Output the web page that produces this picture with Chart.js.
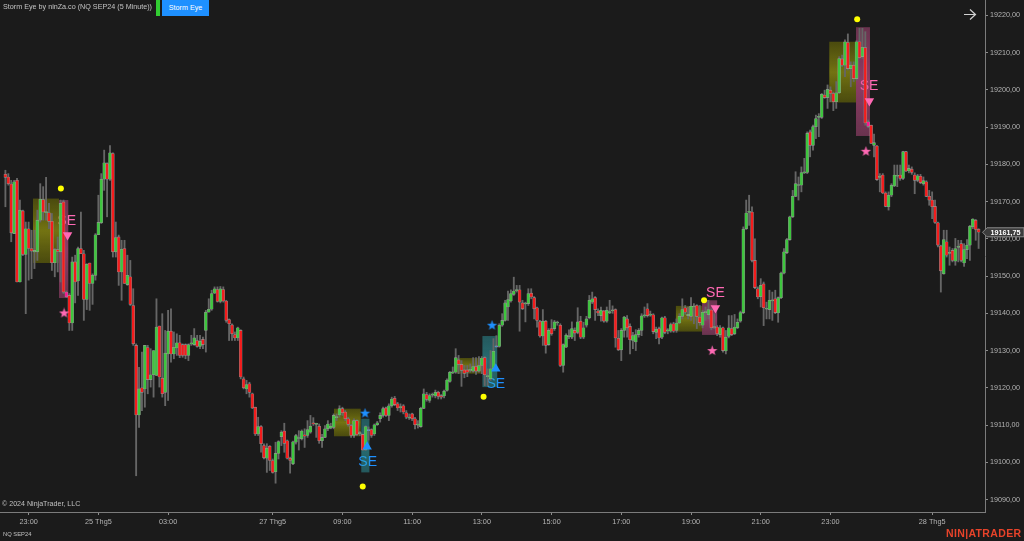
<!DOCTYPE html>
<html>
<head>
<meta charset="utf-8">
<script src="https://cdn.jsdelivr.net/npm/chart.js@4/dist/chart.umd.min.js"></script>
<style>
  html, body { margin: 0; background: #1b1b1b; overflow: hidden; }
  #wrap { position: relative; width: 1024px; height: 541px; font-family: "Liberation Sans", Arial, sans-serif; }
  canvas { position: absolute; left: 0; top: 0; }
  .lbl { position: absolute; white-space: nowrap; color: #b4b4b4; }
  #title { left: 3px; top: 2px; font-size: 7.2px; line-height: 10px; color: #c4c4c4; }
  #stripe { position: absolute; left: 156px; top: 0; width: 4px; height: 16px; background: #32cd32; }
  #button { left: 162px; top: 0; width: 47px; height: 16px; background: #1e90ff; color: #fff; font-size: 7.2px; line-height: 16px; text-align: center; }
  #copy { left: 2px; top: 499px; font-size: 7.1px; line-height: 10px; color: #c0c0c0; }
  #inst { left: 3px; top: 530px; font-size: 5.8px; line-height: 8px; color: #c0c0c0; }
  #brand { left: 946px; top: 527px; font-size: 10.5px; line-height: 13px; font-weight: bold; letter-spacing: 0.35px; color: #e8432a; }
</style>
</head>
<body>
<div id="wrap">
  <canvas id="chart" width="1024" height="541"></canvas>
  <div class="lbl" id="title">Storm Eye by ninZa.co (NQ SEP24 (5 Minute))</div>
  <div id="stripe"></div>
  <div class="lbl" id="button">Storm Eye</div>
  <div class="lbl" id="copy">© 2024 NinjaTrader, LLC</div>
  <div class="lbl" id="inst">NQ SEP24</div>
  <div class="lbl" id="brand">NIN|ATRADER</div>
</div>
<script>
// 5 minute bars (12 bars a row)
const opens = [
  19177.3,19176.6,19174.7,19161.4,19175.7,19148.4,19167.5,19155.8,19162.7,19157.4,19156.5,19156.5,
  19165,19170.5,19167,19167,19164.7,19153.6,19157.1,19156.5,19169.9,19145.7,19144.8,19137.4,
  19153.8,19148.7,19157.4,19156,19143.7,19153.5,19148,19150.2,19161.1,19164.3,19176,19180.2,
  19176,19182.9,19156.5,19160.5,19151.1,19157.4,19147.7,19149.8,19142.1,19131.4,19112.7,19120,
  19119.7,19130.8,19122.2,19123.5,19123.3,19136.6,19122.6,19118.8,19129.1,19135.2,19129.1,19130.7,
  19132.1,19131.6,19131.6,19128.7,19131.8,19131.6,19132.7,19131.1,19133,19135.4,19140.3,19141.1,
  19145.4,19146.4,19143.2,19146.4,19143.3,19138.3,19136.9,19134.3,19133.4,19135.4,19122.4,19119.7,
  19121.1,19118.4,19114.8,19107.6,19109.6,19104.5,19101.1,19104.3,19100.5,19097.5,19102.4,19106.9,
  19108.4,19105.8,19101.1,19099.6,19105.4,19106.4,19106.3,19107.4,19107.2,19108.1,19110.6,19110.2,
  19109.7,19105.8,19106.7,19109,19109.2,19109.4,19112,19112.7,19114.4,19113.5,19111.7,19109.9,
  19107.2,19111.2,19107.7,19107.5,19103.3,19108.5,19108.8,19107.6,19110.1,19111.7,19112.6,19114.6,
  19112.6,19115.2,19117.2,19115.7,19114.7,19115.2,19113.3,19111.9,19113,19111.7,19110,19109.6,
  19114.5,19118.2,19116.6,19118,19117.8,19118.8,19117.9,19117.8,19119.3,19121.7,19124,19124.2,
  19127.5,19126.3,19124.8,19124.8,19124.7,19124.5,19125.7,19124.5,19126,19128.1,19123,19122.4,
  19125.1,19131,19131.1,19136.8,19138.1,19141.7,19143.3,19145.1,19146.1,19146.3,19142.8,19142.5,
  19142.6,19145.4,19144.2,19141.5,19137.8,19133.9,19137.9,19131.6,19135.9,19135.9,19137.4,19136.8,
  19126,19130.9,19133.7,19133.6,19135.4,19134.9,19137.9,19133.6,19136.8,19138.8,19143,19144.2,
  19140.6,19139.4,19140.6,19137.9,19140.2,19140.7,19141,19133.3,19130.2,19135.4,19138.5,19136.5,
  19132.7,19132.3,19134.3,19135.4,19139.3,19141.2,19139.5,19139.6,19134.9,19135.9,19133.6,19138.8,
  19135.3,19135.2,19137.2,19135.4,19137.4,19139.2,19141.5,19139.4,19139.2,19141.7,19142.1,19139,
  19136.8,19140.2,19139.6,19140.9,19136.2,19136.3,19134.3,19136.1,19129.9,19133.8,19135.9,19134.5,
  19136.1,19137.9,19140.2,19162.7,19167.1,19167.2,19154.2,19146.6,19144.5,19147.9,19141.1,19141,
  19143.3,19143.9,19140.1,19144.2,19150.8,19156.3,19159.8,19165.9,19171.4,19174.3,19174.4,19177.7,
  19177.8,19188.7,19185.1,19190.1,19192.6,19192.6,19198.6,19197.9,19199.9,19199,19196.8,19199.2,
  19208.3,19206.6,19212.7,19205.7,19206.6,19203,19212.9,19208.9,19211.3,19191.4,19190.5,19185.1,
  19184.9,19176.5,19177.1,19172.3,19168.6,19171.7,19174.2,19176.8,19177.1,19176.2,19183.4,19178.2,
  19178.7,19177.1,19175.7,19176.8,19174.8,19175.3,19171.4,19170.4,19168.7,19164.3,19158.1,19150.6,
  19159.2,19156.1,19156.9,19154,19157.7,19158.7,19153.5,19157.1,19158.3,19163.2,19165,19162.6
];
const highs = [
  19178.4,19177.5,19175.7,19175.7,19176.2,19170.4,19167.7,19164.5,19164.5,19162.3,19162.3,19167.7,
  19174.8,19174,19176.5,19169.5,19166.8,19157.4,19160.5,19170.4,19170.4,19146,19145.3,19155.1,
  19155.6,19157.8,19167.2,19156.9,19153.3,19153.5,19150.6,19161.4,19171.7,19177.5,19183.8,19180.4,
  19185,19183.1,19164.5,19161,19159.6,19159.6,19155.6,19154.2,19146.6,19131.8,19125.5,19129.6,
  19131.4,19131.4,19130.5,19130,19143.9,19136.6,19139.9,19135.4,19140.8,19141.2,19135,19134.5,
  19134.1,19131.8,19131.8,19131.8,19134.1,19135.9,19134.1,19134.1,19133.6,19140.8,19143.9,19146.2,
  19147.1,19147.1,19147.2,19147.1,19143.5,19138.5,19137.2,19135,19136.3,19135.6,19122.9,19122,
  19121.5,19118.6,19114.8,19112.1,19109.9,19105,19105,19104.5,19100.9,19105.4,19105.8,19108.5,
  19110.5,19106,19101.4,19105.7,19107.5,19108.5,19108.7,19109,19111.2,19112.6,19112,19110.5,
  19110.3,19107.5,19109.9,19111.2,19110.5,19113,19113,19115.2,19114.8,19113.9,19112.1,19110.2,
  19111.7,19111.4,19108.3,19107.6,19109.8,19109.5,19109,19110.3,19111,19113.3,19114.8,19114.8,
  19115.7,19117.5,19117.7,19116.1,19115.7,19115.5,19113.9,19113,19113.2,19112.1,19111.2,19114.8,
  19119.7,19118.8,19118.4,19118.6,19119.4,19119.1,19118.2,19119.4,19122.4,19124.4,19125.6,19130.5,
  19128.7,19127.3,19126,19126,19126.4,19128.1,19128.1,19128.4,19128.4,19128.4,19125.1,19130,
  19133.2,19134,19137.2,19139.9,19143.5,19146,19146.3,19149.7,19147.5,19147.5,19143.5,19143,
  19146.6,19146.6,19144.5,19141.7,19138.1,19141,19138.1,19135.9,19138.3,19138.1,19137.9,19137.2,
  19131.8,19134.5,19135.6,19137.7,19136.1,19141.5,19139.2,19137.6,19139.2,19144.8,19145.7,19144.5,
  19141.2,19141.7,19140.8,19141.7,19143.5,19142,19141.2,19135.4,19135.9,19139.2,19139.4,19137.2,
  19134.9,19135.6,19135.9,19139.9,19141.7,19142.6,19140.6,19139.9,19136.3,19136.3,19139,19139.2,
  19135.9,19137.4,19137.6,19138.5,19139.9,19143.9,19142.1,19141.7,19144.2,19142.6,19142.3,19142.1,
  19140.8,19141.7,19143.5,19141.2,19139.9,19136.7,19136.7,19136.3,19135.4,19139.4,19139.4,19139.7,
  19138.5,19140.6,19163.2,19170.4,19171.7,19168.6,19160,19147.1,19149.3,19148.4,19143,19146.2,
  19145.7,19146.2,19144.4,19151.1,19157.4,19160.1,19166.1,19173,19178,19176.6,19179.3,19181.6,
  19188.7,19189.2,19190.5,19193.2,19193.6,19199,19199.9,19201.3,19200.8,19199.4,19202.2,19208.9,
  19209.3,19213.4,19215,19207.5,19207.5,19213.2,19216.5,19216.5,19215.6,19191.9,19190.5,19188.1,
  19185.1,19177.5,19177.5,19172.6,19172.6,19174.8,19179.8,19179.8,19179.8,19183.5,19183.5,19179.8,
  19179.3,19177.7,19177.3,19177.3,19176.6,19175.6,19173,19172.6,19170.4,19164.5,19158.3,19162.3,
  19162.3,19157.8,19157.4,19160.1,19159.6,19159.6,19158.7,19159.8,19163.6,19165.4,19165.2,19162.7
];
const lows = [
  19168.6,19174.4,19159.2,19161.4,19148.4,19148.4,19155.5,19139.9,19148.9,19149.3,19152,19154.2,
  19164.5,19165,19165,19162.7,19151.5,19149.8,19151.1,19148.4,19145.3,19144.2,19135.4,19135.4,
  19142.8,19144.8,19156,19138.1,19141,19140.8,19142.4,19148.9,19161.1,19164.1,19173,19165.9,
  19175.7,19155.1,19155.1,19147.5,19143.5,19148,19147.5,19142.1,19131.4,19096.4,19109.4,19113.9,
  19114.8,19118.4,19120.2,19117.5,19123.3,19120.2,19117.5,19115.2,19116.6,19126.9,19127.8,19128.7,
  19128.1,19128.2,19127.8,19127.3,19131.4,19131.4,19130.9,19130.5,19130.5,19129.6,19140.3,19140.8,
  19145.3,19143,19142.8,19143,19137.6,19132.7,19132.7,19132.7,19132.7,19122.4,19119.7,19118.4,
  19117.5,19114.4,19107.2,19107.2,19102.7,19100.9,19097.3,19097.8,19097.1,19094.4,19100.9,19104.5,
  19102.7,19100.9,19097.1,19099.4,19104.9,19103.3,19106,19104,19106.7,19107.8,19109.9,19106.7,
  19105.1,19104,19106.6,19108.5,19109,19109,19111.2,19112.1,19112.6,19111.2,19109.7,19106.7,
  19106.7,19107.2,19107.2,19103.2,19103.2,19106,19106.7,19107.2,19109.9,19110.8,19112.1,19112.3,
  19111.2,19114.8,19115.2,19113.9,19113.5,19113,19111.7,19111.5,19111.2,19109,19109.2,19109.4,
  19114.4,19116.4,19116.1,19117.5,19117.3,19117,19117,19117.3,19119.1,19121.5,19123.8,19123.9,
  19123.8,19120.4,19122.7,19123,19124.2,19124.2,19123.6,19124.2,19123.8,19120.6,19120.6,19122,
  19124.8,19130.8,19130.9,19136.5,19137.9,19138.1,19143,19144.8,19145.7,19135.2,19141,19137.7,
  19142.1,19143.9,19138.5,19136.3,19133.6,19131.4,19129.3,19131.4,19134.1,19135.4,19136.8,19125.7,
  19124.2,19130.8,19133.2,19133.2,19132.7,19134.5,19133.2,19133.2,19136.3,19138.5,19142.6,19138.1,
  19139.4,19137.9,19137.6,19137.6,19139.9,19140,19130.9,19130,19127.3,19133.6,19133.6,19129.1,
  19130.5,19130,19133.6,19134,19138.9,19139,19139.2,19134.5,19133.2,19131.8,19133.2,19134.5,
  19134.5,19134.9,19134.9,19134.9,19137.2,19138.5,19139.7,19138.5,19138.1,19137.2,19135.9,19136.8,
  19136.1,19138.1,19138.5,19135.6,19135.9,19134,19133.6,19129.6,19129.1,19133.4,19134,19134.3,
  19135.9,19137.6,19139.9,19162.5,19163.6,19153.8,19146.6,19143.9,19141.7,19136.7,19138.5,19138.5,
  19138.1,19139.9,19137.6,19143.9,19150.6,19156,19159.6,19165.7,19171.3,19170.4,19172.6,19177.5,
  19177.5,19182,19183.8,19186.9,19187.4,19192.3,19197.7,19195,19196.8,19194.4,19195,19199,
  19206.2,19203.5,19205.3,19200.8,19202.2,19202.6,19208.4,19208.4,19190.5,19189.8,19185.6,19182,
  19175.7,19172.6,19172.1,19168.6,19167.7,19171.3,19174,19174,19175.7,19175.9,19178,19177.7,
  19177.3,19172.1,19175.3,19174.8,19174.4,19171.3,19169,19165.4,19164.1,19157.8,19145.7,19150.5,
  19155.1,19152.9,19153.8,19152.9,19153.8,19153.8,19152.6,19154.7,19154.2,19162.7,19159.6,19157.4
];
const closes = [
  19176.5,19174.8,19161.6,19175.3,19148.4,19167.7,19155.8,19162.7,19157.4,19156.7,19156.9,19165,
  19170.6,19167.2,19167.3,19164.7,19153.6,19157.1,19156.6,19169.5,19145.7,19144.4,19137.4,19153.8,
  19148.4,19157.4,19156,19143.7,19153.2,19148,19150.2,19161.1,19164.4,19176,19180.4,19176,
  19183.1,19156.5,19160.3,19151.1,19157.2,19148,19150.2,19142.4,19131.8,19112.7,19119.7,19118.8,
  19131.4,19122.2,19123.5,19130,19136.3,19122.9,19118.4,19129.3,19135.2,19129.1,19130.9,19132.1,
  19128.7,19128.7,19128.7,19131.6,19131.9,19133.4,19131.1,19132.5,19131.6,19140.3,19141.1,19145.3,
  19146.6,19143.2,19146.6,19143.3,19138.1,19137.2,19134.5,19133.4,19136.1,19122.9,19120,19120.9,
  19118.8,19114.6,19107.6,19109.6,19105,19101.2,19103.8,19100.5,19097.3,19102.4,19105.6,19108.1,
  19105.1,19101.1,19100.5,19105.5,19107.2,19106.5,19108.4,19107,19108.8,19109.7,19110.3,19110.4,
  19105.8,19106.7,19109,19110.3,19109.7,19112.6,19112.2,19114.4,19113.3,19111.7,19110.2,19107.2,
  19111.2,19107.5,19107.9,19103.3,19109.6,19108.7,19107.2,19110.1,19110.6,19112.6,19114.4,19112.6,
  19115.2,19117,19115.5,19114.6,19114.9,19113.5,19112.1,19112,19111.7,19110.1,19110.1,19114.5,
  19118.4,19116.9,19117.9,19118.2,19118.8,19117.7,19117.5,19119.1,19122.1,19124.2,19124.2,19128.1,
  19126.3,19124.7,19123.9,19124.2,19124.9,19125.7,19124.5,19126,19128,19123.5,19123.1,19125.1,
  19129.8,19131.3,19136.8,19138.1,19142.8,19143.7,19145.3,19146,19146.3,19143,19141.2,19142.7,
  19145.3,19144.4,19141.2,19138.1,19133.9,19137.9,19131.4,19135.4,19134.5,19137.7,19137.6,19126,
  19131.6,19134.1,19133.9,19135.9,19134.7,19137.7,19133.6,19136.1,19138.5,19143.5,19143.9,19141,
  19140.1,19140.8,19137.9,19140.8,19140.4,19140.9,19133.4,19130.2,19135.4,19139,19136.1,19132.9,
  19134,19134.3,19135.4,19139.3,19139.5,19139.4,19139.7,19135.1,19135.7,19133.4,19138.8,19134.9,
  19135.5,19137,19135.2,19137.4,19139.2,19141,19140.3,19139.7,19141.9,19141.9,19139.2,19137.5,
  19140.3,19140.4,19141,19136.1,19136.4,19134.5,19136.1,19130,19133.6,19136.1,19134.3,19136.3,
  19137.6,19140.2,19162.6,19166.9,19167.3,19154.2,19146.9,19144.4,19147.5,19141.5,19141.3,19143.5,
  19143.6,19140.2,19144.2,19150.8,19156.5,19159.8,19165.9,19171.4,19174.8,19174.5,19177.8,19177.9,
  19188.3,19185.1,19190.1,19192.3,19192.8,19198.8,19197.9,19200.1,19199,19196.8,19199.2,19208.4,
  19206.6,19212.9,19205.7,19206.6,19203,19212.9,19208.6,19211.4,19191.1,19190.2,19185.6,19185.8,
  19175.9,19176.7,19172.3,19168.7,19171.7,19174.4,19177.1,19177,19176.2,19183.4,19178.2,19178.9,
  19177.8,19175.7,19176.9,19175.1,19175.6,19171.4,19170.4,19168.6,19164.4,19158.3,19151.4,19159.8,
  19155.6,19156.3,19154.2,19157.4,19157.9,19154.2,19157.1,19158.3,19163.4,19165.3,19162.5,19161.75
];

// bars where the signal paints the candle itself
const pinkBars = [21, 297];
const blueBars = [125, 169];

const tickBars = [8, 32, 56, 92, 116, 140, 164, 188, 212, 236, 260, 284, 319];
const tickLabels = ['23:00', '25 Thg5', '03:00', '27 Thg5', '09:00', '11:00', '13:00', '15:00', '17:00', '19:00', '21:00', '23:00', '28 Thg5'];
const priceTicks = [19090, 19100, 19110, 19120, 19130, 19140, 19150, 19160, 19170, 19180, 19190, 19200, 19210, 19220];

// storm boxes, bar numbers and prices
const stormStart = [9.5, 113.1, 155.4, 230.8, 283.6];
const stormEnd = [18.45, 122.3, 164.3, 239.8, 292.8];
const stormTop = [19170.8, 19114.4, 19128, 19142, 19212.9];
const stormBottom = [19153.5, 19107, 19123.8, 19135.1, 19196.6];

const pinkStart = [18.45, 239.8, 292.8];
const pinkEnd = [21.65, 245, 297.6];
const pinkTop = [19170.4, 19143.5, 19216.8];
const pinkBottom = [19144.1, 19134.2, 19187.6];

const tealStart = [122.5, 164.2];
const tealEnd = [125.3, 169.3];
const tealTop = [19111.7, 19133.9];
const tealBottom = [19097.3, 19120.2];

const dotBars = [19.1, 123, 164.6, 240.5, 293.2];
const dotPrices = [19173.5, 19093.5, 19117.6, 19143.5, 19218.9];
const pinkStarBars = [20.2, 243.3, 296.2];
const pinkStarPrices = [19140.1, 19130, 19183.5];
const blueStarBars = [123.8, 167.5];
const blueStarPrices = [19113.2, 19136.8];
const downBars = [21.4, 244.4, 297.4];
const downPrices = [19161, 19141.4, 19197];
const upBars = [124.5, 168.8];
const upPrices = [19104.2, 19125.1];
const seBars = [21.1, 124.7, 168.8, 244.4, 297.3];
const sePrices = [19164.8, 19100, 19121, 19145.4, 19201.1];
const seIsLong = [false, true, true, false, false];

const PINK = '#ff69b4';
const BLUE = '#1e90ff';
const UP = '#3ec63e';
const DOWN = '#f41c1c';

function points(xs, ys) {
  return xs.map((x, i) => ({ x, y: ys[i] }));
}

function bodyColor(i) {
  if (pinkBars.includes(i)) return '#ff1493';
  if (blueBars.includes(i)) return BLUE;
  return closes[i] >= opens[i] ? UP : DOWN;
}

function starImage(color) {
  const c = document.createElement('canvas');
  c.width = 11;
  c.height = 11;
  const g = c.getContext('2d');
  g.fillStyle = color;
  g.beginPath();
  for (let k = 0; k < 10; k++) {
    const r = k % 2 ? 2.2 : 5.4;
    const a = -Math.PI / 2 + k * Math.PI / 5;
    g.lineTo(5.5 + r * Math.cos(a), 5.7 + r * Math.sin(a));
  }
  g.closePath();
  g.fill();
  return c;
}

function fillBoxes(chart, starts, ends, tops, bottoms, edge, mid) {
  const { ctx, scales } = chart;
  starts.forEach((s, i) => {
    const x0 = scales.x.getPixelForValue(s);
    const x1 = scales.x.getPixelForValue(ends[i]);
    const y0 = scales.y.getPixelForValue(tops[i]);
    const y1 = scales.y.getPixelForValue(bottoms[i]);
    const grad = ctx.createLinearGradient(0, y0, 0, y1);
    grad.addColorStop(0, edge);
    grad.addColorStop(0.5, mid);
    grad.addColorStop(1, edge);
    ctx.fillStyle = grad;
    ctx.fillRect(x0, y0, x1 - x0, y1 - y0);
  });
}

const overlays = {
  id: 'overlays',
  beforeDatasetsDraw(chart) {
    const { ctx, scales } = chart;
    ctx.save();
    ctx.font = '14px "Liberation Sans", Arial, sans-serif';
    ctx.textAlign = 'center';
    ctx.textBaseline = 'middle';
    seBars.forEach((b, i) => {
      ctx.fillStyle = seIsLong[i] ? BLUE : PINK;
      ctx.fillText('SE', scales.x.getPixelForValue(b), scales.y.getPixelForValue(sePrices[i]));
    });
    fillBoxes(chart, stormStart, stormEnd, stormTop, stormBottom, 'rgba(115,115,5,0.55)', 'rgba(150,150,15,0.72)');
    fillBoxes(chart, pinkStart, pinkEnd, pinkTop, pinkBottom, 'rgba(215,85,150,0.42)', 'rgba(225,85,155,0.58)');
    fillBoxes(chart, tealStart, tealEnd, tealTop, tealBottom, 'rgba(50,175,185,0.42)', 'rgba(50,175,185,0.55)');
    ctx.restore();
  },
  afterDraw(chart) {
    const { ctx, scales } = chart;
    const last = closes[closes.length - 1];
    const y = scales.y.getPixelForValue(last);
    ctx.save();
    // last price tag
    ctx.beginPath();
    ctx.moveTo(982.5, y);
    ctx.lineTo(987, y - 4.5);
    ctx.lineTo(1024, y - 4.5);
    ctx.lineTo(1024, y + 4.5);
    ctx.lineTo(987, y + 4.5);
    ctx.closePath();
    ctx.fillStyle = '#3c3c3c';
    ctx.strokeStyle = '#8a8a8a';
    ctx.lineWidth = 1;
    ctx.fill();
    ctx.stroke();
    ctx.fillStyle = '#ffffff';
    ctx.font = 'bold 7.2px "Liberation Sans", Arial, sans-serif';
    ctx.textAlign = 'left';
    ctx.textBaseline = 'middle';
    ctx.fillText(last.toFixed(2).replace('.', ','), 990.5, y + 0.5);
    // arrow, top right
    ctx.strokeStyle = '#d2d2d2';
    ctx.lineWidth = 1.2;
    ctx.beginPath();
    ctx.moveTo(964, 14.5);
    ctx.lineTo(975.5, 14.5);
    ctx.moveTo(970, 9.5);
    ctx.lineTo(975.5, 14.5);
    ctx.lineTo(970, 19.5);
    ctx.stroke();
    ctx.restore();
  }
};

new Chart(document.getElementById('chart'), {
  type: 'bar',
  plugins: [overlays],
  data: {
    datasets: [
      {
        label: 'Dots', type: 'scatter', data: points(dotBars, dotPrices), order: 1,
        pointStyle: 'circle', pointRadius: 3, backgroundColor: '#ffff00', borderColor: '#ffff00', borderWidth: 0
      },
      {
        label: 'Short stars', type: 'scatter', data: points(pinkStarBars, pinkStarPrices), order: 1,
        pointStyle: starImage(PINK)
      },
      {
        label: 'Long stars', type: 'scatter', data: points(blueStarBars, blueStarPrices), order: 1,
        pointStyle: starImage(BLUE)
      },
      {
        label: 'Short arrows', type: 'scatter', data: points(downBars, downPrices), order: 1,
        pointStyle: 'triangle', pointRotation: 180, pointRadius: 5.5, backgroundColor: PINK, borderColor: PINK, borderWidth: 0
      },
      {
        label: 'Long arrows', type: 'scatter', data: points(upBars, upPrices), order: 1,
        pointStyle: 'triangle', pointRadius: 5.5, backgroundColor: BLUE, borderColor: BLUE, borderWidth: 0
      },
      {
        label: 'Body',
        data: closes.map((c, i) => ({ x: i, y: [opens[i], c] })),
        order: 2, grouped: false, barThickness: 3, minBarLength: 1,
        backgroundColor: closes.map((c, i) => bodyColor(i)),
        borderColor: 'rgba(175,175,175,0.7)', borderWidth: 0.6, borderSkipped: false
      },
      {
        label: 'Wick',
        data: closes.map((c, i) => ({ x: i, y: [lows[i], highs[i]] })),
        order: 3, grouped: false, barThickness: 1.2,
        backgroundColor: '#666666'
      }
    ]
  },
  options: {
    responsive: false,
    animation: false,
    devicePixelRatio: 1,
    events: [],
    layout: { padding: 0, autoPadding: false },
    plugins: { legend: { display: false }, tooltip: { enabled: false } },
    scales: {
      x: {
        type: 'linear',
        offset: false,
        min: -1.859,
        max: 337.2,
        afterFit(scale) {
          scale.height = 29;
          scale.paddingLeft = 0;
          scale.paddingRight = 0;
        },
        afterBuildTicks(scale) { scale.ticks = tickBars.map((value) => ({ value })); },
        grid: { offset: false, drawOnChartArea: false, drawTicks: true, tickLength: 3, color: '#8c8c8c' },
        border: { color: '#7c7c7c', width: 1 },
        ticks: {
          autoSkip: false,
          maxRotation: 0,
          padding: 3,
          color: '#b4b4b4',
          font: { family: '"Liberation Sans", Arial, sans-serif', size: 7.3 },
          callback: (value) => tickLabels[tickBars.indexOf(value)]
        }
      },
      y: {
        position: 'right',
        min: 19086.67,
        max: 19224.1,
        afterFit(scale) {
          scale.width = 39;
          scale.paddingTop = 0;
          scale.paddingBottom = 0;
        },
        afterBuildTicks(scale) { scale.ticks = priceTicks.map((value) => ({ value })); },
        grid: { drawOnChartArea: false, drawTicks: true, tickLength: 3, color: '#8c8c8c' },
        border: { color: '#7c7c7c', width: 1 },
        ticks: {
          padding: 2,
          color: '#b4b4b4',
          font: { family: '"Liberation Sans", Arial, sans-serif', size: 7.2 },
          callback: (value) => value.toFixed(2).replace('.', ',')
        }
      }
    }
  }
});
</script>
</body>
</html>
